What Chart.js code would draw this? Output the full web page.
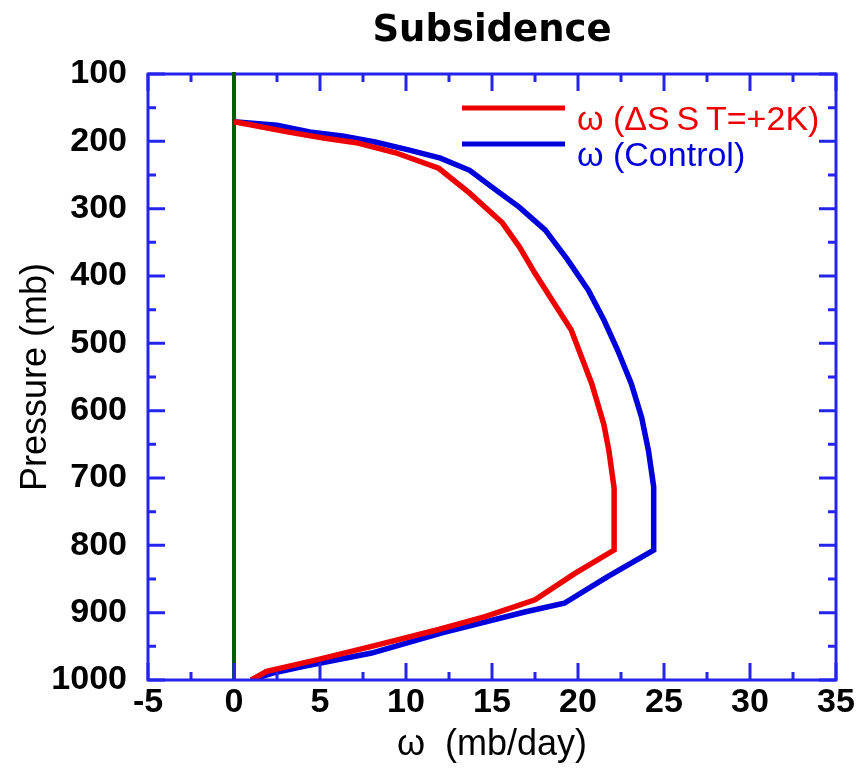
<!DOCTYPE html>
<html>
<head>
<meta charset="utf-8">
<script src="https://cdn.jsdelivr.net/npm/chart.js@4.4.1/dist/chart.umd.min.js"></script>
<style>
  html, body { margin: 0; padding: 0; background: #fff; }
  #wrap { width: 857px; height: 769px; }
</style>
</head>
<body>
<div id="wrap"><canvas id="chart" width="857" height="769"></canvas></div>
<script>
// data: omega (mb/day) vs pressure (mb)
const warmPressure = [171, 176, 186, 195, 202, 217, 240, 277, 321, 357, 396, 436, 480, 520, 560, 620, 660, 715, 807, 842, 881, 906, 925, 950, 970, 987, 1000];
const warmOmega    = [0, 1.1, 3.1, 5.2, 7.1, 9.4, 11.9, 13.7, 15.6, 16.6, 17.5, 18.5, 19.6, 20.2, 20.8, 21.5, 21.8, 22.1, 22.1, 19.8, 17.5, 14.6, 11.9, 8.0, 4.8, 1.9, 1.0];

const ctrlPressure = [171, 176, 186, 192, 201, 213, 225, 243, 268, 298, 332, 376, 421, 465, 510, 560, 610, 660, 713, 807, 847, 886, 899, 930, 960, 980, 990, 1000];
const ctrlOmega    = [0, 2.5, 4.4, 6.3, 8.2, 10.2, 12.0, 13.7, 15.0, 16.6, 18.1, 19.4, 20.6, 21.5, 22.3, 23.1, 23.7, 24.1, 24.4, 24.4, 21.7, 19.2, 16.9, 12.1, 8.0, 4.0, 2.2, 1.0];

const zeroLine = [100, 1000];

const chartTitle   = 'Subsidence';
const legendLabels = ['\u03c9 (\u0394S\u2009S\u2009T=+2K)', '\u03c9 (Control)'];

const RED   = '#ee0000';
const BLUE  = '#0000dd';
const AXIS  = '#2424ee';
const GREEN = '#005c00';

const toPts = (xs, ys) => xs.map((x, i) => ({ x: x, y: ys[i] }));

// blue frame with inward ticks on all four sides
const framePlugin = {
  id: 'frame',
  afterDatasetsDraw(chart) {
    const { ctx, chartArea: a, scales: { x, y } } = chart;
    ctx.save();
    ctx.strokeStyle = AXIS;
    ctx.lineWidth = 3;
    ctx.lineCap = 'butt';
    ctx.beginPath();
    for (let v = -5; v <= 35; v += 2.5) {
      const px = x.getPixelForValue(v);
      const len = (v % 5 === 0) ? 17 : 8;
      ctx.moveTo(px, a.bottom); ctx.lineTo(px, a.bottom - len);
      if (v !== 0) { ctx.moveTo(px, a.top); ctx.lineTo(px, a.top + len); }
    }
    for (let v = 100; v <= 1000; v += 50) {
      const py = y.getPixelForValue(v);
      const len = (v % 100 === 0) ? 17 : 8;
      ctx.moveTo(a.left, py);  ctx.lineTo(a.left + len, py);
      ctx.moveTo(a.right, py); ctx.lineTo(a.right - len, py);
    }
    ctx.stroke();
    ctx.strokeRect(a.left, a.top, a.right - a.left, a.bottom - a.top);
    // zero line sits over the top edge
    const zx = x.getPixelForValue(0);
    ctx.strokeStyle = GREEN;
    ctx.lineWidth = 4;
    ctx.beginPath();
    ctx.moveTo(zx, a.top - 2); ctx.lineTo(zx, a.top + 20);
    ctx.stroke();
    ctx.restore();
  }
};

// title centred over the plot, legend inside top right
const textPlugin = {
  id: 'texts',
  afterDraw(chart) {
    const { ctx, chartArea: a } = chart;
    ctx.save();
    ctx.fillStyle = '#000';
    ctx.font = 'bold 37px "DejaVu Sans", sans-serif';
    ctx.textAlign = 'center';
    ctx.textBaseline = 'middle';
    ctx.fillText(chartTitle, (a.left + a.right) / 2, 31);

    const cols = [RED, BLUE];
    ctx.font = '34px "Liberation Sans", Arial, sans-serif';
    ctx.textAlign = 'left';
    legendLabels.forEach((txt, i) => {
      const ly = a.top + 34 + i * 36;
      ctx.strokeStyle = cols[i];
      ctx.lineWidth = 5;
      ctx.beginPath();
      ctx.moveTo(a.left + 314, ly);
      ctx.lineTo(a.left + 417, ly);
      ctx.stroke();
      ctx.fillStyle = cols[i];
      ctx.fillText(txt, a.left + 429, ly + 13);
    });
    ctx.restore();
  }
};

const tickFont  = { family: '"Liberation Sans", Arial, sans-serif', weight: 'bold', size: 34 };
const titleFont = { family: '"Liberation Sans", Arial, sans-serif', size: 36 };

new Chart(document.getElementById('chart'), {
  type: 'scatter',
  data: {
    datasets: [
      { label: 'warm', data: toPts(warmOmega, warmPressure), showLine: true, borderColor: RED,  borderWidth: 5.5, pointRadius: 0, tension: 0 },
      { label: 'ctrl', data: toPts(ctrlOmega, ctrlPressure), showLine: true, borderColor: BLUE, borderWidth: 5.5, pointRadius: 0, tension: 0 },
      { label: 'zero', data: zeroLine.map(p => ({ x: 0, y: p })), showLine: true, borderColor: GREEN, borderWidth: 4, pointRadius: 0 },
    ],
  },
  options: {
    responsive: false,
    animation: false,
    layout: { padding: { top: 74, right: 21, bottom: 0, left: 0 } },
    plugins: {
      legend: { display: false },
      tooltip: { enabled: false },
      title: { display: false },
    },
    scales: {
      x: {
        type: 'linear',
        min: -5, max: 35,
        ticks: { stepSize: 5, color: '#000', padding: 2, font: tickFont, callback: v => String(v) },
        grid: { display: false, drawTicks: false },
        border: { display: false },
        title: { display: true, text: '\u03c9  (mb/day)', color: '#000', font: titleFont, padding: { top: 0, bottom: 2 } },
        afterFit: s => { s.height = 89; },
      },
      y: {
        type: 'linear',
        reverse: true,
        min: 100, max: 1000,
        ticks: { stepSize: 100, color: '#000', padding: 21, font: tickFont, callback: v => String(v) },
        grid: { display: false, drawTicks: false },
        border: { display: false },
        title: { display: true, text: 'Pressure (mb)', color: '#000', font: titleFont, padding: { top: 14, bottom: 0 } },
        afterFit: s => { s.width = 148; },
      },
    },
  },
  plugins: [framePlugin, textPlugin],
});
</script>
</body>
</html>
